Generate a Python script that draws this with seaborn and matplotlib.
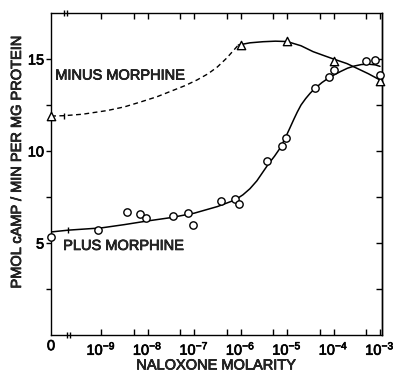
import numpy as np
import pandas as pd
import matplotlib
matplotlib.use("Agg")
import matplotlib.pyplot as plt
import matplotlib.patheffects as pe
import seaborn as sns

# naloxone molarity (0 = no naloxone) and cAMP (pmol/min per mg protein)
minus_conc = [0, 1e-6, 1e-5, 1e-4, 1e-3]
minus_camp = [11.9, 15.75, 16.0, 14.9, 13.8]

plus_conc = [0, 8.7e-10, 3.5e-9, 6.9e-9, 9.3e-9, 3.5e-8, 7.4e-8, 9.5e-8,
             3.8e-7, 7.6e-7, 9.3e-7, 3.7e-6, 7.8e-6, 9.5e-6, 4e-5, 7.8e-5,
             1e-4, 5e-4, 8e-4, 1e-3]
plus_camp = [5.33, 5.7, 6.68, 6.58, 6.36, 6.47, 6.63, 5.98,
             7.3, 7.39, 7.12, 9.43, 10.27, 10.7, 13.4, 14.0,
             14.42, 14.87, 14.95, 14.15]

# hand-drawn curves (log10 molarity, 0 point at far left)
minus_dash_logm = [-10.08, -9.8, -9.4, -8.87, -8.5, -8.16, -7.8, -7.45, -7.2,
                   -6.94, -6.7, -6.5, -6.3, -6.05]
minus_dash_camp = [11.9, 11.92, 12.0, 12.2, 12.4, 12.66, 12.95, 13.3, 13.55,
                   13.86, 14.2, 14.57, 15.05, 15.76]
minus_fit_logm = [-6.05, -5.8, -5.52, -5.25, -5.0, -4.7, -4.44, -4.2, -4.0,
                  -3.71, -3.5, -3.25, -3.0]
minus_fit_camp = [15.76, 15.88, 15.94, 15.97, 15.95, 15.72, 15.4, 15.18, 15.0,
                  14.75, 14.5, 14.2, 13.86]
plus_fit_logm = [-10.08, -9.7, -9.0, -8.5, -8.0, -7.5, -7.0, -6.5, -6.12,
                 -5.95, -5.8, -5.65, -5.52, -5.4, -5.27, -5.15, -5.05, -4.94,
                 -4.85, -4.78, -4.7, -4.6, -4.5, -4.4, -4.25, -4.1, -4.0,
                 -3.85, -3.7, -3.55, -3.4, -3.25, -3.1, -3.0]
plus_fit_camp = [5.6, 5.7, 5.82, 6.0, 6.2, 6.38, 6.62, 6.98, 7.34,
                 7.62, 7.95, 8.38, 8.86, 9.3, 9.72, 10.16, 10.65, 11.25,
                 11.75, 12.12, 12.5, 12.85, 13.15, 13.4, 13.72, 13.98, 14.12,
                 14.32, 14.5, 14.62, 14.7, 14.72, 14.68, 14.6]

decades = [-9, -8, -7, -6, -5, -4, -3]
ZERO_POS = -10.08


def to_pos(conc):
    return [ZERO_POS if c == 0 else np.log10(c) for c in conc]


sns.set_style("ticks")
plt.rcParams['font.family'] = ['Liberation Sans', 'DejaVu Sans']
plt.rcParams['mathtext.fontset'] = 'custom'
plt.rcParams['mathtext.rm'] = 'Liberation Sans'
plt.rcParams['mathtext.it'] = 'Liberation Sans'

heavy = [pe.withStroke(linewidth=0.5, foreground='black')]

fig = plt.figure(figsize=(3.93, 3.72), dpi=100)
ax = fig.add_axes([0.130, 0.0995, 0.842, 0.8655])

minus_df = pd.DataFrame({'x': to_pos(minus_conc), 'y': minus_camp})
plus_df = pd.DataFrame({'x': to_pos(plus_conc), 'y': plus_camp})

sns.lineplot(x=minus_dash_logm, y=minus_dash_camp, ax=ax, color='black',
             lw=1.0, sort=False, estimator=None,
             linestyle=(0, (3.5, 2.5)))
sns.lineplot(x=minus_fit_logm, y=minus_fit_camp, ax=ax, color='black',
             lw=1.1, sort=False, estimator=None)
sns.lineplot(x=plus_fit_logm, y=plus_fit_camp, ax=ax, color='black',
             lw=1.1, sort=False, estimator=None)

sns.scatterplot(data=minus_df, x='x', y='y', ax=ax, marker='^', s=36,
                facecolor='white', edgecolor='black', linewidth=1.0,
                zorder=5, clip_on=False)
sns.scatterplot(data=plus_df, x='x', y='y', ax=ax, marker='o', s=28,
                facecolor='white', edgecolor='black', linewidth=1.0,
                zorder=5, clip_on=False)

# axis break marks
for xb in (-9.74, -9.68):
    ax.plot([xb], [0], marker='|', ms=5, color='black', mew=1, clip_on=False)
    ax.plot([xb - 0.06], [17.5], marker='|', ms=5, color='black', mew=1, clip_on=False)
ax.plot([-9.8], [11.92], marker='|', ms=5, color='black', mew=1)
ax.plot([-9.72], [5.69], marker='|', ms=5, color='black', mew=1)

ax.text(-9.99, 14.1, 'MINUS MORPHINE', fontsize=10.5, va='center', ha='left',
        path_effects=heavy)
ax.text(-9.82, 4.84, 'PLUS MORPHINE', fontsize=10.5, va='center', ha='left',
        path_effects=heavy)

ax.set_xlim(ZERO_POS, -2.957)
ax.set_ylim(0, 17.5)

minor_x = [d + np.log10(5) for d in decades[:-1]]
ax.set_xticks([ZERO_POS] + decades)
ax.set_xticklabels(['0'] + [r'$10^{%d}$' % d for d in decades], fontsize=10.5)
ax.set_xticks(minor_x, minor=True)
ax.tick_params(axis='x', which='both', direction='in', length=4, width=1.0,
               pad=3, top=True, bottom=True, colors='black')
ax.xaxis.get_major_ticks()[0].tick1line.set_visible(False)
ax.xaxis.get_major_ticks()[0].tick2line.set_visible(False)

ax.set_yticks([5, 10, 15])
ax.set_yticklabels(['5', '10', '15'], fontsize=10.5)
ax.set_yticks([2.5, 7.5, 12.5], minor=True)
ax.tick_params(axis='y', which='both', direction='out', length=3.5, width=1.0,
               pad=1.5, left=True, right=False, colors='black')

right = ax.secondary_yaxis('right')
right.set_yticks([2.5, 5, 7.5, 10, 12.5, 15])
right.tick_params(which='both', direction='in', length=4, width=1.0,
                  right=True, left=False, labelright=False, colors='black')
right.spines['right'].set_linewidth(1.0)
right.spines['right'].set_color('black')

for lbl in ax.get_xticklabels() + ax.get_yticklabels():
    lbl.set_path_effects(heavy)

for s in ax.spines.values():
    s.set_linewidth(1.0)
    s.set_color('black')
    s.set_visible(True)

ax.set_xlabel('NALOXONE MOLARITY', fontsize=10.5, labelpad=0.5,
              path_effects=heavy)
ax.set_ylabel('PMOL cAMP / MIN PER MG PROTEIN', fontsize=10.5, labelpad=2,
              path_effects=heavy)
ax.yaxis.set_label_coords(-0.082, 0.54)

fig.savefig('out.png', dpi=100)
